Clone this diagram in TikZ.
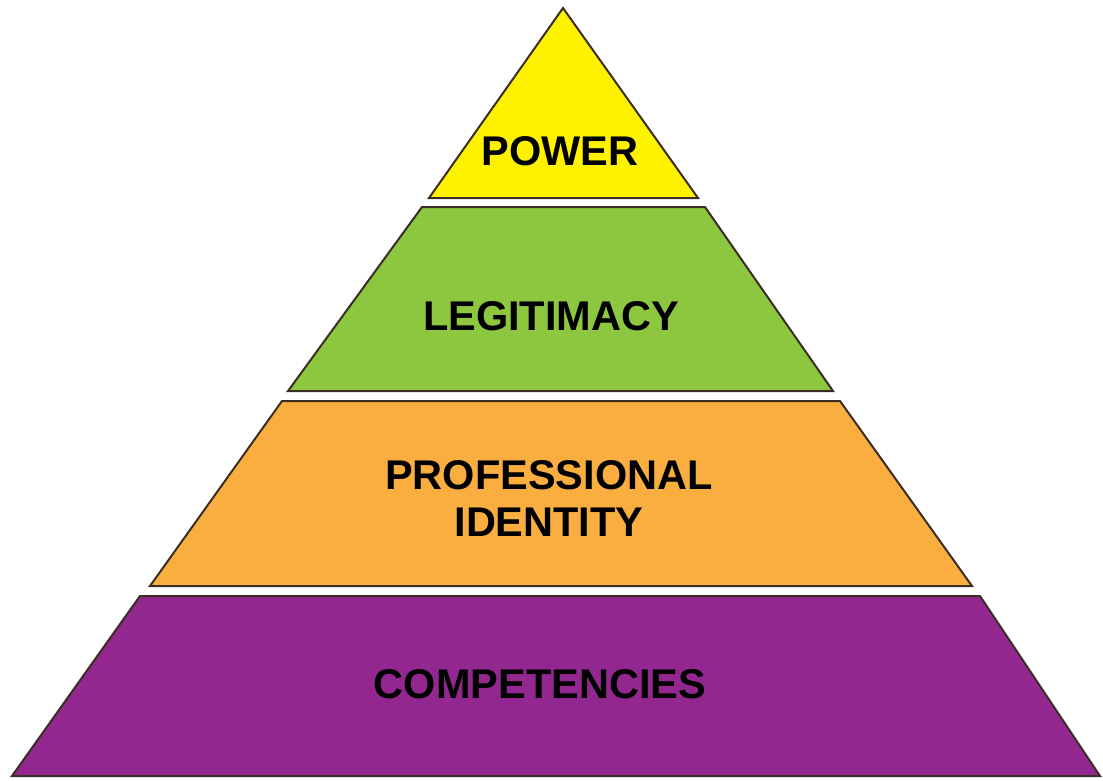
\documentclass[tikz,border=0pt]{standalone}
\usepackage{fontspec}
\setmainfont{Liberation Sans}
\definecolor{tieryellow}{HTML}{FFF200}
\definecolor{tiergreen}{HTML}{8DC63F}
\definecolor{tierorange}{HTML}{FBAE40}
\definecolor{tierpurple}{HTML}{92278F}
\definecolor{tieredge}{HTML}{3A2E24}
\begin{document}
\begin{tikzpicture}[x=1pt,y=-1pt,
  tier/.style={draw=tieredge, line width=2pt, line join=miter},
  label/.style={font=\fontsize{41.5}{47}\selectfont\bfseries, text=black, align=center, inner sep=0pt}]
  \useasboundingbox (0,0) rectangle (1103,780);
  % pyramid tiers, top to bottom
  \filldraw[tier, fill=tieryellow] (563,8) -- (698,198) -- (429,198) -- cycle;
  \filldraw[tier, fill=tiergreen] (422,207) -- (705,207) -- (833,391) -- (288,391) -- cycle;
  \filldraw[tier, fill=tierorange] (282,401) -- (840,401) -- (972,586) -- (150,586) -- cycle;
  \filldraw[tier, fill=tierpurple] (140,596) -- (980,596) -- (1100,776) -- (12,776) -- cycle;
  % tier labels
  \node[label] (power) at (560,151) {POWER};
  \node[label] (legit) at (551,316) {LEGITIMACY};
  \node[label] (ident) at (549,499) {PROFESSIONAL\\IDENTITY};
  \node[label] (comp) at (540,684) {COMPETENCIES};
\end{tikzpicture}
\end{document}
